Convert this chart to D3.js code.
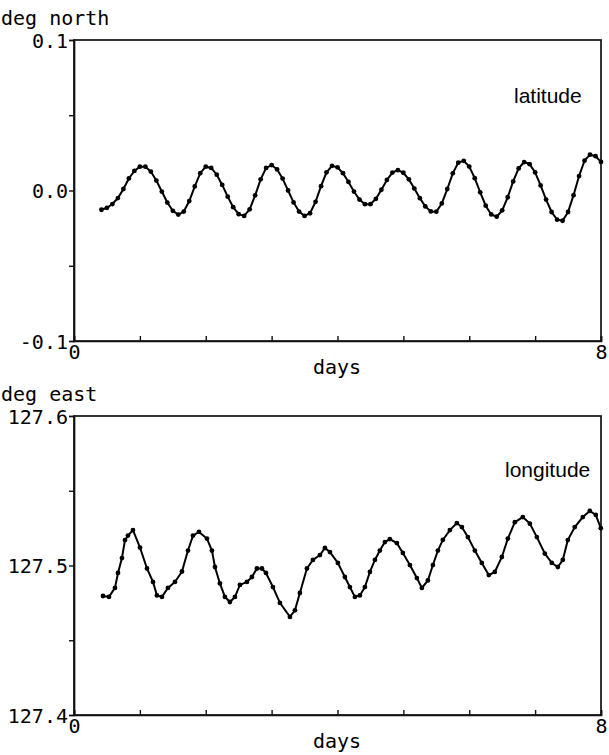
<!DOCTYPE html>
<html><head><meta charset="utf-8">
<script src="https://cdn.jsdelivr.net/npm/d3@7"></script>
<style>
body{margin:0;background:#fff;}
svg{display:block;}
.mono{font-family:"DejaVu Sans Mono",monospace;font-size:20px;fill:#000;}
.lab{font-family:"Liberation Sans",Arial,sans-serif;font-size:21px;fill:#000;}
</style></head>
<body>
<svg id="chart" width="609" height="755"></svg>
<script>
// ---- data ----
const xTickValues = [0,1,2,3,4,5,6,7,8];
const xTickLabels = ["0","","","","","","","","8"];
const latTickValues = [-0.1,-0.05,0,0.05,0.1];
const latTickLabels = ["-0.1","","0.0","","0.1"];
const lonTickValues = [127.4,127.45,127.5,127.55,127.6];
const lonTickLabels = ["127.4","","127.5","","127.6"];

// latitude samples every 2 hours from day 5/12 to day 8
const latDays = d3.range(5,97).map(k => k/12);
const latValues = [
 -0.0128,-0.0115,-0.0090,-0.0050,0.0010,0.0080,0.0130,0.0158,0.0158,0.0126,
 0.0066,-0.0007,-0.0080,-0.0135,-0.0160,-0.0140,-0.0070,0.0027,0.0115,0.0158,
 0.0150,0.0105,0.0037,-0.0041,-0.0111,-0.0157,-0.0169,-0.0125,-0.0032,0.0074,
 0.0150,0.0169,0.0140,0.0079,0.0000,-0.0079,-0.0140,-0.0169,-0.0151,-0.0075,
 0.0029,0.0121,0.0164,0.0154,0.0115,0.0057,-0.0007,-0.0060,-0.0091,-0.0091,
 -0.0055,0.0005,0.0070,0.0119,0.0135,0.0118,0.0074,0.0013,-0.0051,-0.0106,
 -0.0139,-0.0141,-0.0086,0.0010,0.0114,0.0185,0.0197,0.0159,0.0082,-0.0012,
 -0.0101,-0.0159,-0.0174,-0.0132,-0.0045,0.0060,0.0147,0.0189,0.0175,0.0120,
 0.0034,-0.0060,-0.0143,-0.0194,-0.0201,-0.0143,-0.0031,0.0096,0.0198,0.0238,
 0.0228,0.0190
];

const lonDays = [
 0.440,0.531,0.622,0.668,0.728,0.774,0.819,0.895,1.002,1.108,
 1.199,1.259,1.335,1.426,1.533,1.639,1.730,1.806,1.897,2.018,
 2.094,2.140,2.215,2.291,2.367,2.443,2.519,2.625,2.701,2.777,
 2.853,2.914,3.020,3.126,3.278,3.354,3.429,3.536,3.627,3.733,
 3.809,3.885,4.006,4.112,4.188,4.264,4.340,4.416,4.492,4.568,
 4.643,4.719,4.795,4.901,4.992,5.099,5.205,5.281,5.372,5.448,
 5.524,5.599,5.706,5.812,5.888,5.979,6.085,6.191,6.297,6.388,
 6.495,6.586,6.692,6.813,6.920,7.026,7.147,7.253,7.345,7.420,
 7.496,7.602,7.724,7.830,7.921,7.997
];
const lonValues = [
 127.4796,127.4790,127.4850,127.4950,127.5050,127.5170,127.5200,127.5237,127.5120,127.4980,
 127.4890,127.4800,127.4790,127.4850,127.4890,127.4960,127.5100,127.5200,127.5225,127.5180,
 127.5100,127.4990,127.4880,127.4790,127.4756,127.4790,127.4870,127.4890,127.4923,127.4980,
 127.4980,127.4950,127.4856,127.4750,127.4656,127.4700,127.4816,127.4980,127.5037,127.5070,
 127.5117,127.5090,127.5017,127.4923,127.4856,127.4790,127.4800,127.4856,127.4957,127.5037,
 127.5100,127.5157,127.5177,127.5150,127.5084,127.5003,127.4916,127.4850,127.4900,127.5003,
 127.5100,127.5171,127.5237,127.5284,127.5257,127.5190,127.5100,127.5017,127.4936,127.4957,
 127.5057,127.5180,127.5290,127.5324,127.5280,127.5190,127.5080,127.5017,127.4990,127.5037,
 127.5170,127.5257,127.5324,127.5365,127.5338,127.5250
];

// ---- drawing ----
const svg = d3.select("#chart");
const L = 74, R = 601;

function panel(cfg){
  const x = d3.scaleLinear().domain([0,8]).range([L,R]);
  const y = d3.scaleLinear().domain(cfg.domain).range([cfg.bottom,cfg.top]);
  const g = svg.append("g");

  g.append("rect").attr("x",L).attr("y",cfg.top).attr("width",R-L).attr("height",cfg.bottom-cfg.top)
   .attr("fill","none").attr("stroke","#111").attr("stroke-width",1.7);

  const xa = g.append("g").attr("transform",`translate(0,${cfg.bottom})`)
    .call(d3.axisBottom(x).tickValues(xTickValues).tickSize(-5).tickPadding(4)
      .tickFormat((d,i)=>xTickLabels[i]));
  const ya = g.append("g").attr("transform",`translate(${L},0)`)
    .call(d3.axisLeft(y).tickValues(cfg.tickValues).tickSize(5).tickPadding(1)
      .tickFormat((d,i)=>cfg.tickLabels[i]));
  [xa,ya].forEach(a=>{
    a.select(".domain").attr("stroke","#111").attr("stroke-width",1.7);
    a.selectAll(".tick line").attr("stroke","#111").attr("stroke-width",1.4);
    a.selectAll(".tick text").attr("class","mono").attr("font-family",null).attr("font-size",null).attr("fill","#000");
  });
  ya.selectAll(".tick text").attr("dy","0.36em");

  g.append("text").attr("class","mono").attr("x",1).attr("y",cfg.top-15).text(cfg.yTitle);
  g.append("text").attr("class","mono").attr("x",337).attr("y",cfg.bottom+33)
    .attr("text-anchor","middle").text("days");
  g.append("text").attr("class","lab").attr("x",cfg.labelX).attr("y",cfg.top+cfg.labelDy).text(cfg.label);

  const pts = cfg.days.map((d,i)=>[d,cfg.values[i]]);
  g.append("path").datum(pts)
    .attr("d", d3.line().x(d=>x(d[0])).y(d=>y(d[1])))
    .attr("fill","none").attr("stroke","#000").attr("stroke-width",2);
  g.selectAll("circle.pt").data(pts).join("circle").attr("class","pt")
    .attr("cx",d=>x(d[0])).attr("cy",d=>y(d[1])).attr("r",2.4).attr("fill","#000");
}

panel({domain:[-0.1,0.1], top:40, bottom:341, tickValues:latTickValues, tickLabels:latTickLabels,
  yTitle:"deg north", label:"latitude", labelX:514, labelDy:63, days:latDays, values:latValues});
panel({domain:[127.4,127.6], top:416, bottom:715, tickValues:lonTickValues, tickLabels:lonTickLabels,
  yTitle:"deg east", label:"longitude", labelX:505, labelDy:61, days:lonDays, values:lonValues});
</script>
</body></html>
